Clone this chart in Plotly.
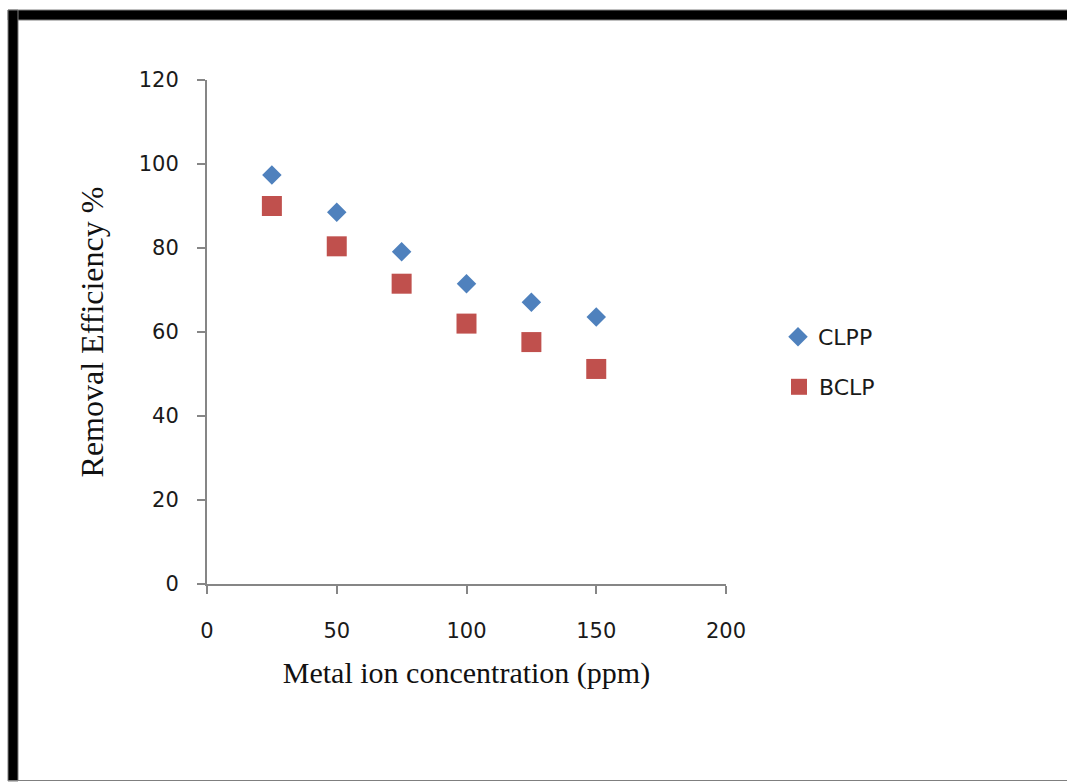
import plotly.graph_objects as go

# Metal ion concentration (ppm) and removal efficiency (%) for each adsorbent
concentration = [25, 50, 75, 100, 125, 150]
clpp_efficiency = [97.4, 88.5, 79.1, 71.5, 67.1, 63.6]
bclp_efficiency = [90.0, 80.4, 71.5, 62.0, 57.6, 51.2]

x_ticks = [0, 50, 100, 150, 200]
y_ticks = [0, 20, 40, 60, 80, 100, 120]

W, H = 1067, 782
L, R, T, B = 207, 341, 80, 198
PW, PH = W - L - R, H - T - B


def px(x):
    return (x - L) / PW


def py(y):
    return (H - B - y) / PH


BLUE = "#4F81BD"
RED = "#C0504D"
AXIS = "#868686"
TICK_FONT = dict(family="DejaVu Sans", size=21, color="#1a1a1a")
TITLE_FONT = dict(family="Liberation Serif", size=30, color="#111111")

fig = go.Figure()
fig.add_trace(go.Scatter(
    x=concentration, y=clpp_efficiency, mode="markers", name="CLPP",
    marker=dict(symbol="diamond", size=15, color=BLUE, line=dict(width=0)),
    legend="legend",
))
fig.add_trace(go.Scatter(
    x=concentration, y=bclp_efficiency, mode="markers", name="BCLP",
    marker=dict(symbol="square", size=20, color=RED, line=dict(width=0)),
    legend="legend2",
))

axis_common = dict(
    showline=True, linecolor=AXIS, linewidth=2,
    ticks="outside", ticklen=8, tickwidth=2, tickcolor=AXIS,
    showgrid=False, zeroline=False, tickfont=TICK_FONT,
)

fig.update_xaxes(
    range=[0, 200], tickvals=x_ticks, ticktext=[str(v) for v in x_ticks],
    title=dict(text="Metal ion concentration (ppm)", font=TITLE_FONT, standoff=20),
    ticklabelstandoff=19, **axis_common,
)
fig.update_yaxes(
    range=[0, 120], tickvals=y_ticks, ticktext=[str(v) for v in y_ticks],
    title=dict(text="Removal Efficiency %", font=dict(TITLE_FONT, size=32), standoff=26),
    ticklabelstandoff=14, **axis_common,
)

legend_common = dict(
    xref="paper", yref="paper", xanchor="left", yanchor="middle",
    bgcolor="rgba(0,0,0,0)", borderwidth=0,
    font=dict(family="DejaVu Sans", size=22, color="#1a1a1a"),
)

# Black frame around the figure
frame = [
    dict(x0=px(8), x1=px(1080), y0=py(20), y1=py(10)),
    dict(x0=px(8), x1=px(18), y0=py(781), y1=py(10)),
]
shapes = [
    dict(type="rect", xref="paper", yref="paper", fillcolor="black",
         line=dict(color="#7f7f7f", width=1), layer="above", **f)
    for f in frame
]
shapes.append(dict(type="line", xref="paper", yref="paper",
                   x0=px(8), x1=px(1080), y0=py(780.5), y1=py(780.5),
                   line=dict(color="#7f7f7f", width=1)))

fig.update_layout(
    width=W, height=H,
    margin=dict(l=L, r=R, t=T, b=B, pad=0),
    paper_bgcolor="white", plot_bgcolor="white",
    showlegend=True,
    legend=dict(x=px(778), y=py(337), **legend_common),
    legend2=dict(x=px(779), y=py(387), **legend_common),
    shapes=shapes,
)

fig.write_html("out.html")
